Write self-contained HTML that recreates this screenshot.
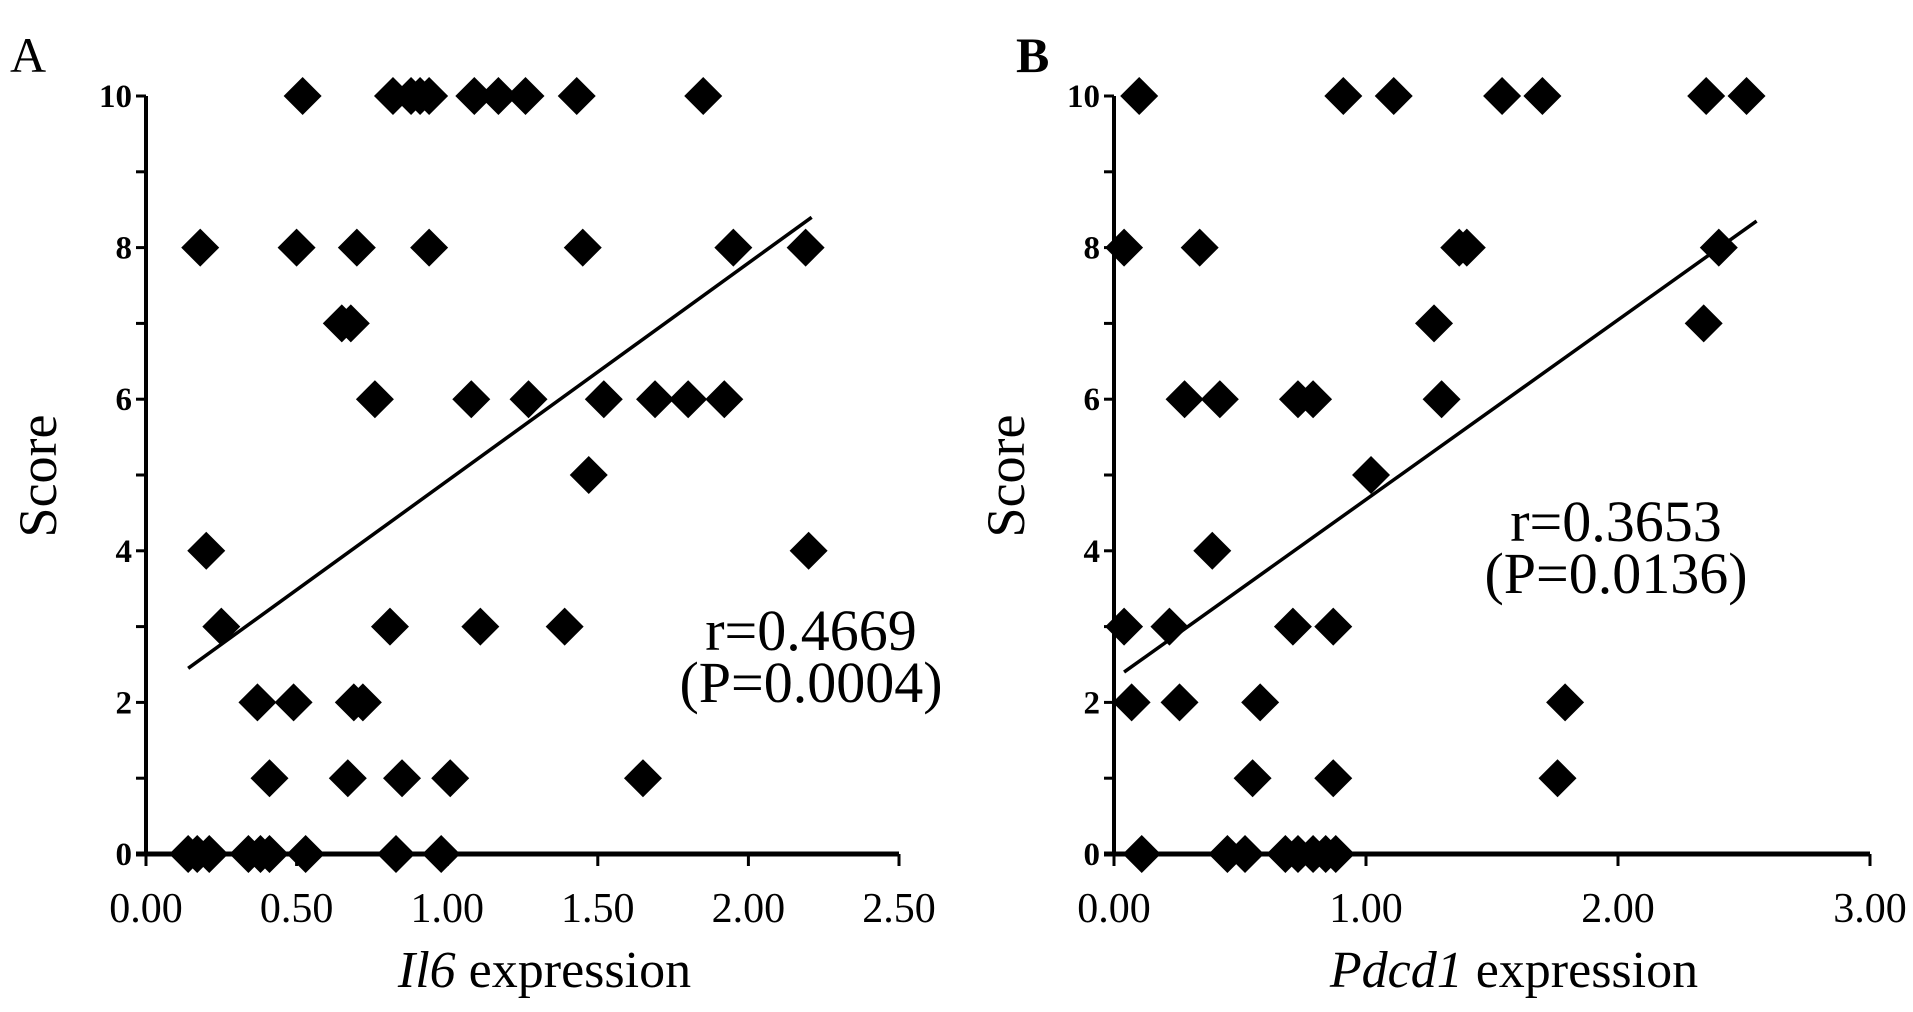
<!DOCTYPE html>
<html><head><meta charset="utf-8"><style>
html,body{margin:0;padding:0;background:#fff;}
svg{display:block;font-family:"Liberation Serif",serif;}
</style></head><body>
<svg id="chart" width="1913" height="1012" viewBox="0 0 1913 1012"></svg>
<script>
const aX10=[0.52,0.82,0.88,0.91,0.94,1.09,1.17,1.26,1.43,1.85];
const aX8=[0.18,0.50,0.70,0.94,1.45,1.95,2.19];
const aX7=[0.65,0.68];
const aX6=[0.76,1.08,1.27,1.52,1.69,1.80,1.92];
const aX5=[1.47];
const aX4=[0.20,2.20];
const aX3=[0.25,0.81,1.11,1.39];
const aX2=[0.37,0.49,0.69,0.72];
const aX1=[0.41,0.67,0.85,1.01,1.65];
const aX0=[0.14,0.17,0.21,0.34,0.38,0.41,0.53,0.83,0.98];
const aTrend=[[0.14,2.45],[2.21,8.4]];
const aTicks=["0.00","0.50","1.00","1.50","2.00","2.50"];
const bX10=[0.10,0.91,1.11,1.54,1.70,2.35,2.51];
const bX8=[0.04,0.34,1.37,1.40,2.40];
const bX7=[1.27,2.34];
const bX6=[0.28,0.42,0.73,0.79,1.30];
const bX5=[1.02];
const bX4=[0.39];
const bX3=[0.04,0.22,0.71,0.87];
const bX2=[0.07,0.26,0.58,1.79];
const bX1=[0.55,0.87,1.76];
const bX0=[0.11,0.45,0.52,0.68,0.73,0.79,0.84,0.88];
const bTrend=[[0.04,2.4],[2.55,8.35]];
const bTicks=["0.00","1.00","2.00","3.00"];
const yTicks=[0,2,4,6,8,10];

const NS="http://www.w3.org/2000/svg";
const svg=document.getElementById('chart');
function mk(tag,attrs,parent,text){const e=document.createElementNS(NS,tag);for(const k in attrs)e.setAttribute(k,attrs[k]);if(text!==undefined)e.textContent=text;(parent||svg).appendChild(e);return e;}

function panel(cfg){
  const g=mk('g',{});
  
  
  const x0=cfg.x0,x1=cfg.x1,xmax=cfg.xmax,y0=854,y10=96;
  const sx=v=>x0+(x1-x0)*v/xmax;
  const sy=v=>y0+(y10-y0)*v/10;
  const lab=mk('text',{x:cfg.labX,y:72,'font-size':50,'font-weight':cfg.id==='b'?'bold':'normal'},g,cfg.id.toUpperCase());
  
  
  const ya=mk('line',{x1:x0,y1:y0,x2:x0,y2:y10,stroke:'#000','stroke-width':4},g);
  
  
  const xa=mk('line',{x1:x0-10,y1:y0,x2:x1,y2:y0,stroke:'#000','stroke-width':5},g);
  
  
  for(let i=0;i<=10;i++){mk('line',{x1:x0-10,y1:sy(i),x2:x0,y2:sy(i),stroke:'#000','stroke-width':3},g);}
  yTicks.forEach(t=>{
    const e=mk('text',{x:x0-14,y:sy(t)+11,'font-size':33,'font-weight':'bold','text-anchor':'end'},g,String(t));
    
    
  });
  cfg.ticks.forEach(t=>{
    const v=parseFloat(t);
    mk('line',{x1:sx(v),y1:y0,x2:sx(v),y2:y0+12,stroke:'#000','stroke-width':3},g);
    const e=mk('text',{x:sx(v),y:922,'font-size':42,'text-anchor':'middle'},g,t);
    
    
  });
  const xt=mk('text',{x:(x0+x1)/2+22,y:987,'font-size':52,'text-anchor':'middle'},g);
  
  
  mk('tspan',{'font-style':'italic'},xt,cfg.gene);
  mk('tspan',{},xt,' expression');
  const yt=mk('text',{x:0,y:0,'font-size':54,'text-anchor':'middle',transform:`translate(${x0-90},476) rotate(-90)`},g,'Score');
  
  
  cfg.rows.forEach((arr,score)=>{
    arr.forEach(v=>{
      const cx=sx(v),cy=sy(score),h=19;
      const p=mk('polygon',{points:`${cx},${cy-h} ${cx+h},${cy} ${cx},${cy+h} ${cx-h},${cy}`,fill:'#000'},g);
      
      
    });
  });
  const tl=mk('line',{x1:sx(cfg.trend[0][0]),y1:sy(cfg.trend[0][1]),x2:sx(cfg.trend[1][0]),y2:sy(cfg.trend[1][1]),stroke:'#000','stroke-width':3.5},g);
  
  
  const r=mk('text',{x:cfg.rx,y:cfg.ry,'font-size':58,'text-anchor':'middle'},g,cfg.r);
  
  
  const p=mk('text',{x:cfg.rx,y:cfg.ry+52,'font-size':58,'text-anchor':'middle'},g,cfg.p);
  
  
}
panel({id:'a',labX:10,x0:146,x1:899,xmax:2.5,ticks:aTicks,gene:'Il6',
  rows:[aX0,aX1,aX2,aX3,aX4,aX5,aX6,aX7,aX8,[],aX10],trend:aTrend,r:'r=0.4669',p:'(P=0.0004)',rx:811,ry:650});
panel({id:'b',labX:1016,x0:1114,x1:1870,xmax:3,ticks:bTicks,gene:'Pdcd1',
  rows:[bX0,bX1,bX2,bX3,bX4,bX5,bX6,bX7,bX8,[],bX10],trend:bTrend,r:'r=0.3653',p:'(P=0.0136)',rx:1616,ry:541});
</script>
</body></html>
